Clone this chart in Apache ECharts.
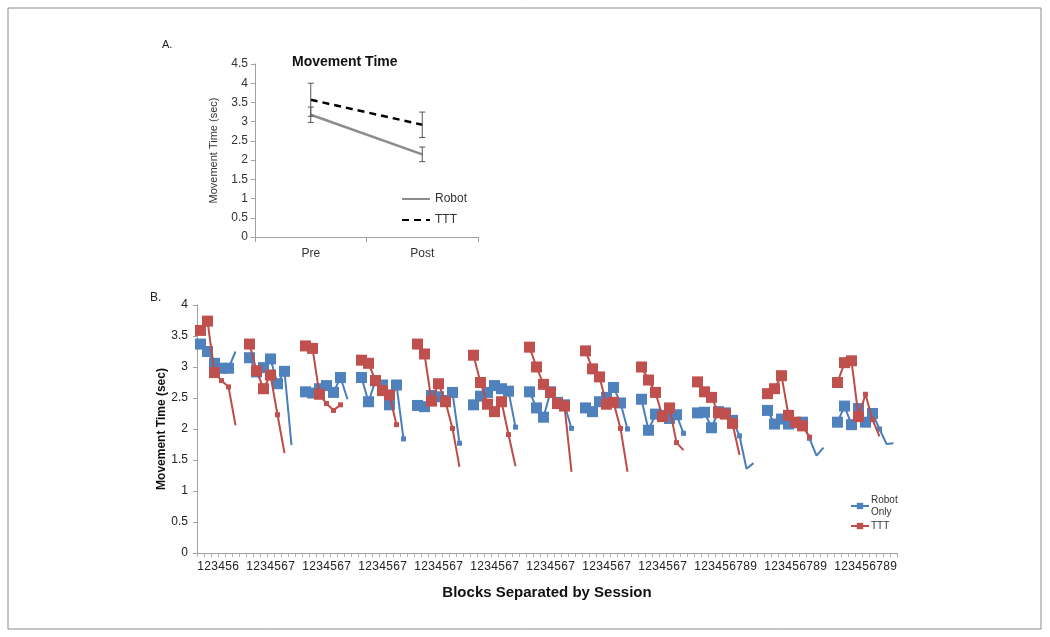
<!DOCTYPE html>
<html>
<head>
<meta charset="utf-8">
<script src="https://cdn.jsdelivr.net/npm/echarts@6/dist/echarts.min.js"></script>
<style>
html,body{margin:0;padding:0;background:#fff;}
#c{width:1050px;height:637px;}
</style>
</head>
<body>
<div id="c"></div>
<script>
// ---------- Panel A data ----------
const prePostCats = ['Pre', 'Post'];
const robotMean = [3.18, 2.15];
const robotErr = [0.20, 0.19];
const tttMean = [3.57, 2.92];
const tttErr = [0.43, 0.33];
const yTicksA = [0, 0.5, 1, 1.5, 2, 2.5, 3, 3.5, 4, 4.5];

// ---------- Panel B data (per session, per block) ----------
const robotSessions = [
  [3.37, 3.25, 3.06, 2.98, 2.98, 3.25],
  [3.15, 2.92, 2.99, 3.13, 2.73, 2.93, 1.74],
  [2.60, 2.58, 2.65, 2.70, 2.59, 2.83, 2.48],
  [2.83, 2.44, 2.78, 2.71, 2.39, 2.71, 1.84],
  [2.38, 2.36, 2.54, 2.52, 2.46, 2.59, 1.77],
  [2.39, 2.53, 2.59, 2.70, 2.65, 2.61, 2.03],
  [2.60, 2.34, 2.19, 2.60, 2.43, 2.39, 2.01],
  [2.34, 2.28, 2.44, 2.51, 2.67, 2.42, 2.00],
  [2.48, 1.98, 2.24, 2.22, 2.17, 2.23, 1.93],
  [2.26, 2.27, 2.02, 2.28, 2.26, 2.14, 1.89, 1.36, 1.45],
  [2.30, 2.08, 2.16, 2.08, 2.10, 2.11, 1.85, 1.57, 1.70],
  [2.11, 2.37, 2.07, 2.33, 2.11, 2.25, 2.00, 1.76, 1.77]
];
const tttSessions = [
  [3.59, 3.74, 2.91, 2.78, 2.68, 2.06],
  [3.37, 2.94, 2.65, 2.87, 2.23, 1.61],
  [3.34, 3.30, 2.56, 2.41, 2.30, 2.39],
  [3.11, 3.06, 2.78, 2.62, 2.55, 2.07],
  [3.37, 3.21, 2.45, 2.73, 2.44, 2.01, 1.39],
  [3.19, 2.75, 2.40, 2.28, 2.44, 1.91, 1.40],
  [3.32, 3.00, 2.72, 2.59, 2.41, 2.37, 1.31],
  [3.26, 2.97, 2.84, 2.40, 2.43, 2.01, 1.31],
  [3.00, 2.79, 2.59, 2.20, 2.34, 1.78, 1.66],
  [2.76, 2.60, 2.51, 2.26, 2.24, 2.09, 1.58],
  [2.57, 2.65, 2.86, 2.22, 2.11, 2.05, 1.87],
  [2.75, 3.07, 3.10, 2.20, 2.56, 2.15, 1.88]
];
const sessionBlocks = [6, 7, 7, 7, 7, 7, 7, 7, 7, 9, 9, 9];
const yTicksB = [0, 0.5, 1, 1.5, 2, 2.5, 3, 3.5, 4];

// marker style per session (count of large markers, then small markers)
const robotBig = [5, 6, 6, 6, 6, 6, 6, 6, 6, 6, 6, 6];
const robotSmall = [0, 0, 0, 1, 1, 1, 1, 1, 1, 1, 1, 1];
const tttBig = [3, 4, 3, 5, 5, 5, 6, 5, 5, 6, 6, 4];
const tttSmall = [2, 1, 3, 1, 1, 1, 0, 1, 1, 0, 1, 2];

const BLUE = '#4F81BD', BLUE_LINE = '#4A7EBB';
const RED = '#C0504D', RED_LINE = '#BE4B48';

// build category axis with one empty gap category between sessions
const blockCats = [];
sessionBlocks.forEach((n, s) => {
  for (let k = 1; k <= n; k++) blockCats.push(String(k));
  if (s < sessionBlocks.length - 1) blockCats.push('');
});

function buildSeriesData(sessions, big, small) {
  const out = [];
  sessions.forEach((vals, s) => {
    const n = sessionBlocks[s];
    for (let k = 0; k < n; k++) {
      const v = k < vals.length ? vals[k] : null;
      if (v === null) { out.push(null); continue; }
      let size = 0;
      if (k < big[s]) size = 11;
      else if (k < big[s] + small[s]) size = 5;
      out.push({ value: v, symbolSize: size });
    }
    if (s < sessions.length - 1) out.push(null);
  });
  return out;
}

const robotData = buildSeriesData(robotSessions, robotBig, robotSmall);
const tttData = buildSeriesData(tttSessions, tttBig, tttSmall);

const errData = [];
prePostCats.forEach((c, i) => {
  errData.push([i, robotMean[i] - robotErr[i], robotMean[i] + robotErr[i]]);
  errData.push([i, tttMean[i] - tttErr[i], tttMean[i] + tttErr[i]]);
});

const FONT = 'Liberation Sans, Arial, sans-serif';
const chart = echarts.init(document.getElementById('c'), null, { renderer: 'canvas' });

const option = {
  animation: false,
  backgroundColor: '#fff',
  textStyle: { fontFamily: FONT },
  title: {
    text: 'Movement Time',
    left: 287, top: 50,
    textStyle: { fontFamily: FONT, fontSize: 14, fontWeight: 'bold', color: '#111' }
  },
  graphic: [
    { type: 'rect', shape: { x: 8, y: 8, width: 1033, height: 621 },
      style: { fill: 'none', stroke: '#8a8a8a', lineWidth: 1 }, silent: true },
    { type: 'text', left: 162, top: 39,
      style: { text: 'A.', fontFamily: FONT, fontSize: 11, fill: '#222' } },
    { type: 'text', left: 150, top: 292,
      style: { text: 'B.', fontFamily: FONT, fontSize: 12, fill: '#222' } }
  ],
  legend: [
    {
      data: ['Robot', 'TTT'],
      orient: 'vertical', left: 396, top: 188,
      itemWidth: 28, itemHeight: 14, itemGap: 9,
      itemStyle: { opacity: 0 },
      textStyle: { fontFamily: FONT, fontSize: 12, color: '#333' }
    },
    {
      data: ['robotB', 'tttB'],
      orient: 'vertical', left: 845, top: 489,
      itemWidth: 18, itemHeight: 8, itemGap: 2,
      formatter: n => (n === 'robotB' ? 'Robot\nOnly' : 'TTT'),
      textStyle: { fontFamily: FONT, fontSize: 10, color: '#333', lineHeight: 12, padding: [0, 0, 0, -3] }
    }
  ],
  grid: [
    { left: 255, top: 64, width: 223, height: 173 },
    { left: 197, top: 305, width: 700, height: 248 }
  ],
  xAxis: [
    {
      type: 'category', gridIndex: 0, data: prePostCats,
      axisLine: { lineStyle: { color: '#a0a0a0' } },
      axisTick: { show: true, length: 5, lineStyle: { color: '#a0a0a0' } },
      axisLabel: { fontFamily: FONT, fontSize: 12, color: '#333', margin: 11 }
    },
    {
      type: 'category', gridIndex: 1, data: blockCats,
      name: 'Blocks Separated by Session', nameLocation: 'middle', nameGap: 32,
      nameMoveOverlap: false,
      nameTextStyle: { fontFamily: FONT, fontSize: 15, fontWeight: 'bold', color: '#111' },
      axisLine: { lineStyle: { color: '#a0a0a0' } },
      axisTick: { show: true, interval: 0, length: 4, lineStyle: { color: '#b0b0b0' } },
      axisLabel: { interval: 0, fontFamily: FONT, fontSize: 12, color: '#222', margin: 8 }
    }
  ],
  yAxis: [
    {
      type: 'value', gridIndex: 0, min: 0, max: 4.5, interval: 0.5,
      name: 'Movement Time (sec)', nameLocation: 'middle', nameGap: 36,
      nameTextStyle: { fontFamily: FONT, fontSize: 11, color: '#333' },
      axisLine: { show: true, lineStyle: { color: '#a0a0a0' } },
      axisTick: { show: true, length: 4, lineStyle: { color: '#a0a0a0' } },
      splitLine: { show: false },
      axisLabel: { fontFamily: FONT, fontSize: 12, color: '#333', margin: 7,
        formatter: v => (yTicksA.indexOf(v) >= 0 ? String(v) : '') }
    },
    {
      type: 'value', gridIndex: 1, min: 0, max: 4, interval: 0.5,
      name: 'Movement Time (sec)', nameLocation: 'middle', nameGap: 29,
      nameMoveOverlap: false,
      nameTextStyle: { fontFamily: FONT, fontSize: 12, fontWeight: 'bold', color: '#111' },
      axisLine: { show: true, lineStyle: { color: '#a0a0a0' } },
      axisTick: { show: true, length: 4, lineStyle: { color: '#a0a0a0' } },
      splitLine: { show: false },
      axisLabel: { fontFamily: FONT, fontSize: 12, color: '#222', margin: 9,
        formatter: v => (yTicksB.indexOf(v) >= 0 ? String(v) : '') }
    }
  ],
  series: [
    {
      name: 'Robot', type: 'line', xAxisIndex: 0, yAxisIndex: 0,
      data: robotMean, symbol: 'none',
      lineStyle: { color: '#8c8c8c', width: 2.5 },
      itemStyle: { color: '#8c8c8c' }, z: 3
    },
    {
      name: 'TTT', type: 'line', xAxisIndex: 0, yAxisIndex: 0,
      data: tttMean, symbol: 'none',
      lineStyle: { color: '#000', width: 2.5, type: [7, 5] },
      itemStyle: { color: '#000' }, z: 3
    },
    {
      name: 'err', type: 'custom', xAxisIndex: 0, yAxisIndex: 0,
      data: errData, z: 4,
      renderItem: (params, api) => {
        const x = api.value(0);
        const lo = api.coord([x, api.value(1)]);
        const hi = api.coord([x, api.value(2)]);
        const w = 3;
        const st = { stroke: '#555', lineWidth: 1 };
        return { type: 'group', children: [
          { type: 'line', shape: { x1: lo[0], y1: lo[1], x2: hi[0], y2: hi[1] }, style: st },
          { type: 'line', shape: { x1: lo[0] - w, y1: lo[1], x2: lo[0] + w, y2: lo[1] }, style: st },
          { type: 'line', shape: { x1: hi[0] - w, y1: hi[1], x2: hi[0] + w, y2: hi[1] }, style: st }
        ]};
      }
    },
    {
      name: 'robotB', type: 'line', xAxisIndex: 1, yAxisIndex: 1,
      data: robotData, symbol: 'rect', symbolSize: 11, connectNulls: false,
      lineStyle: { color: BLUE_LINE, width: 2 },
      itemStyle: { color: BLUE, borderWidth: 0 }, z: 3
    },
    {
      name: 'tttB', type: 'line', xAxisIndex: 1, yAxisIndex: 1,
      data: tttData, symbol: 'rect', symbolSize: 11, connectNulls: false,
      lineStyle: { color: RED_LINE, width: 2 },
      itemStyle: { color: RED, borderWidth: 0 }, z: 4
    }
  ]
};
chart.setOption(option);
</script>
</body>
</html>
